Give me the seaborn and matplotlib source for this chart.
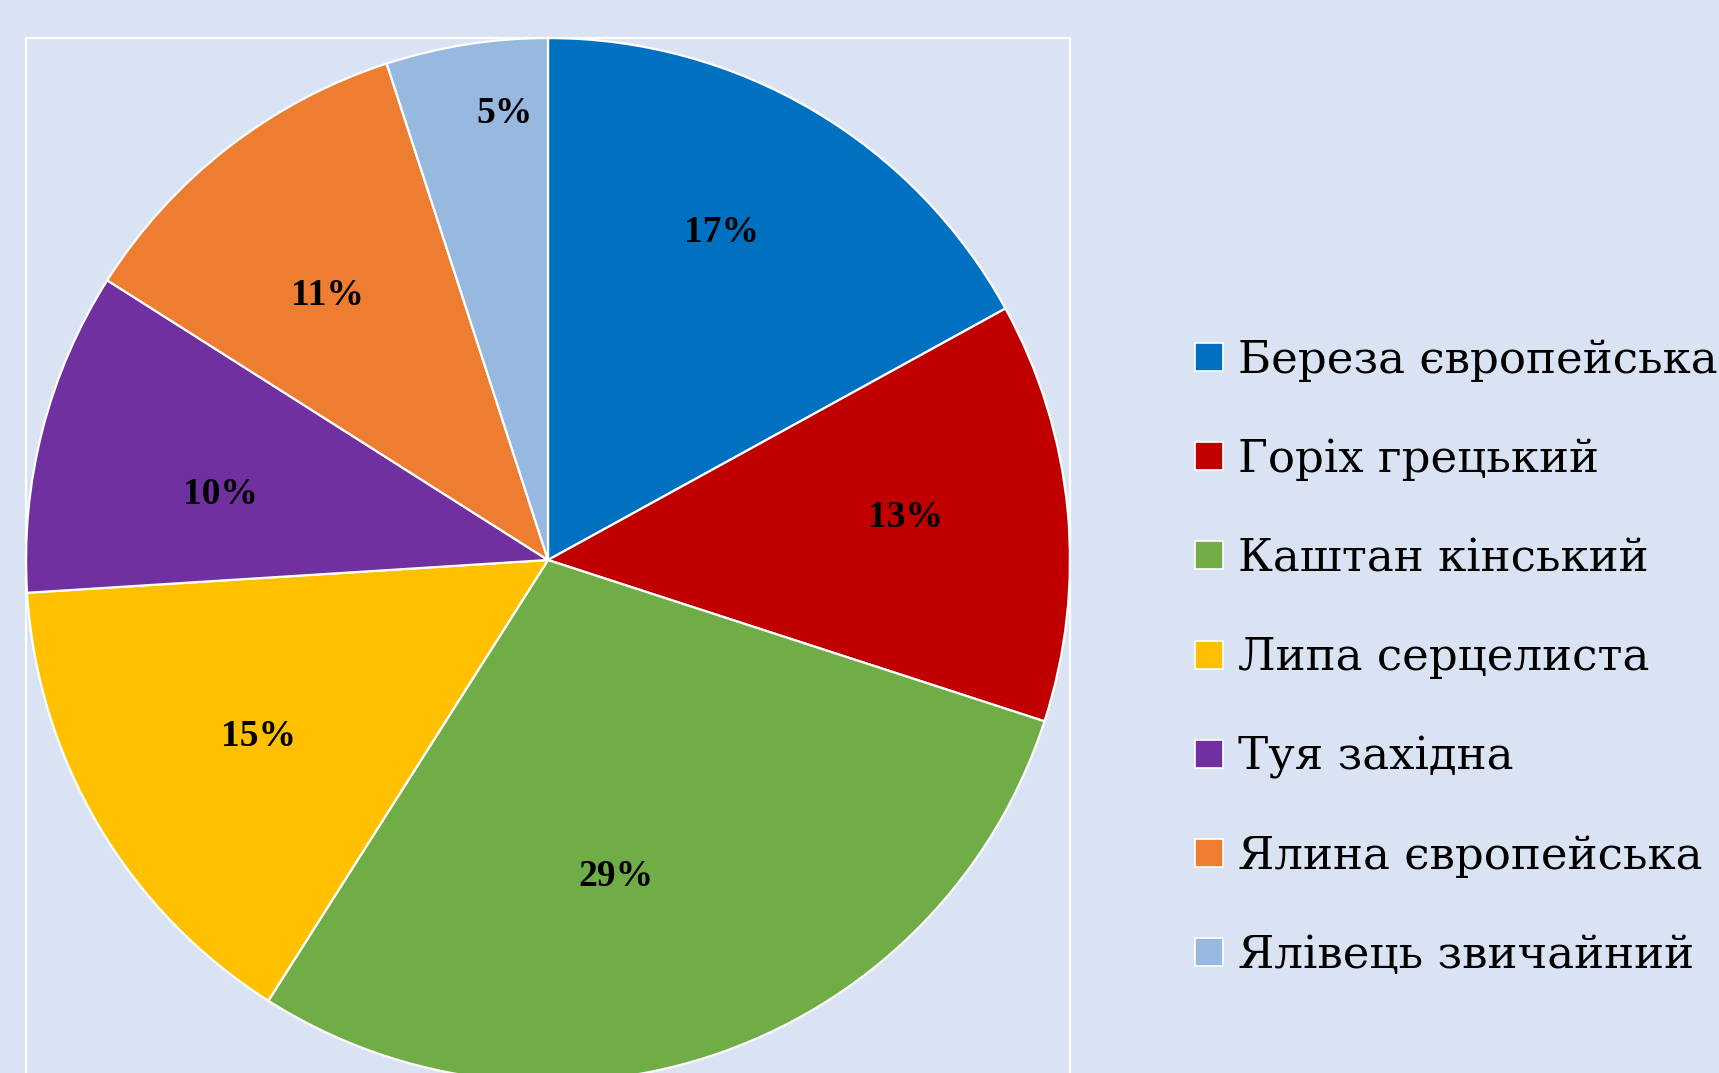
import matplotlib
matplotlib.use("Agg")
import matplotlib.pyplot as plt
from matplotlib.lines import Line2D
import numpy as np
import seaborn as sns

# ---- data ----
species = ["Береза європейська", "Горіх грецький", "Каштан кінський",
           "Липа серцелиста", "Туя західна", "Ялина європейська",
           "Ялівець звичайний"]
shares = [17, 13, 29, 15, 10, 11, 5]
colors = ["#0070C0", "#C00000", "#70AD47", "#FFC000", "#7030A0", "#ED7D31", "#97B9DF"]
# label placement style (radius fraction, angle offset in degrees)
label_radius = [0.71, 0.69, 0.62, 0.65, 0.64, 0.66, 0.86]
label_dang = [2.7, 1.3, -7.7, 0.7, 3.1, 2.1, -3.5]

BG = "#DAE3F3"

sns.set_theme(style="white", rc={"figure.facecolor": BG, "axes.facecolor": BG,
                                 "savefig.facecolor": BG, "text.color": "black"})
plt.rcParams["font.family"] = ["DejaVu Serif"]

W, H = 1719, 1073
fig = plt.figure(figsize=(W / 100, H / 100), dpi=100)

# pie area: center (548, 560) px from top-left, radius 522 px
cx, cy, R = 548, 560, 522
ax = fig.add_axes([(cx - R) / W, (H - cy - R) / H, 2 * R / W, 2 * R / H])

wedges, _ = ax.pie(shares, colors=colors, startangle=90, counterclock=False,
                   radius=1.0, center=(0, 0), frame=True,
                   wedgeprops=dict(edgecolor="white", linewidth=1.6))
ax.set_xlim(-1, 1)
ax.set_ylim(-1, 1)
ax.set_aspect("equal", adjustable="box")
ax.set_xticks([])
ax.set_yticks([])
for s in ax.spines.values():
    s.set_visible(True)
    s.set_color("white")
    s.set_linewidth(1.6)

for w, v, r, da in zip(wedges, shares, label_radius, label_dang):
    ang = np.deg2rad((w.theta1 + w.theta2) / 2 + da)
    ax.text(r * np.cos(ang), r * np.sin(ang), f"{v}%", ha="center", va="center",
            fontsize=27, fontweight="bold", color="black",
            family=["Liberation Serif", "DejaVu Serif"])

handles = [Line2D([], [], marker="s", linestyle="none", markersize=20,
                  markerfacecolor=c, markeredgecolor="white", markeredgewidth=1.2)
           for c in colors]
leg = fig.legend(handles, species, loc="center left",
                 bbox_to_anchor=(1193 / W, (H - 658) / H), frameon=False,
                 fontsize=32.5, handlelength=0.72, handletextpad=0.28,
                 labelspacing=1.24, borderpad=0, borderaxespad=0)
for t in leg.get_texts():
    t.set_color("black")

fig.savefig("out.png", dpi=100, facecolor=BG)
